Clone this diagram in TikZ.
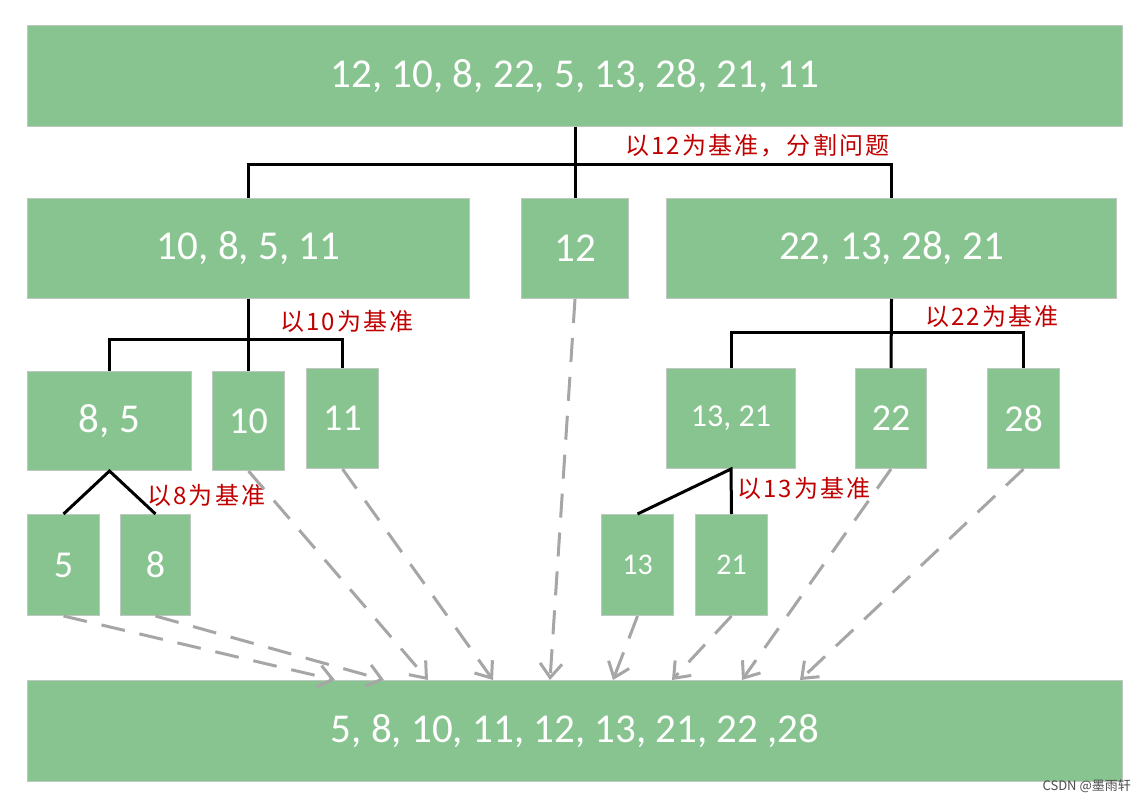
\documentclass[tikz,border=0pt]{standalone}
\usepackage{fontspec}
\setmainfont{Carlito}
\newfontfamily\cjk{Noto Sans CJK SC}
\newfontfamily\cjkwide[LetterSpace=9]{Noto Sans CJK SC}
\usetikzlibrary{arrows.meta}
\definecolor{boxgreen}{RGB}{136,196,143}
\definecolor{boxedge}{RGB}{190,200,192}
\definecolor{arrgray}{RGB}{166,166,166}
\definecolor{lblred}{RGB}{192,0,0}
\begin{document}
\begin{tikzpicture}[x=1pt,y=-1pt,
  box/.style={draw=boxedge, line width=1pt, fill=boxgreen, text=white, anchor=north west, inner sep=0pt},
  fbig/.style={font=\fontsize{41}{41}\selectfont},
  fmid/.style={font=\fontsize{38}{38}\selectfont},
  fsmall/.style={font=\fontsize{32}{32}\selectfont},
  ftiny/.style={font=\fontsize{30}{30}\selectfont},
  tree/.style={draw=black, line width=3pt},
  lbl/.style={text=lblred, anchor=west, inner sep=0pt, font=\cjkwide\fontsize{24}{24}\selectfont},
  darr/.style={draw=arrgray, line width=3pt, dash pattern=on 24pt off 15pt, -{Straight Barb[length=14pt,width=22pt]}}]
\useasboundingbox (0,0) rectangle (1147,802);
% boxes
\node[box, fbig, minimum width=1095, minimum height=101] (top) at (27,25) {12, 10, 8, 22, 5, 13, 28, 21, 11};
\node[box, fbig, minimum width=442, minimum height=100] (left) at (27,198) {10, 8, 5, 11};
\node[box, fbig, minimum width=107, minimum height=100] (mid) at (521,198) {12};
\node[box, fbig, minimum width=450, minimum height=100] (right) at (666,198) {22, 13, 28, 21};
\node[box, fbig, minimum width=164, minimum height=99] (b85) at (27,371) {8, 5};
\node[box, fmid, minimum width=72, minimum height=99] (b10) at (212,371) {10};
\node[box, fmid, minimum width=72, minimum height=100] (b11) at (306,368) {11};
\node[box, fsmall, minimum width=129, minimum height=100] (b1321) at (666,368) {13, 21};
\node[box, fmid, minimum width=71, minimum height=100] (b22) at (855,368) {22};
\node[box, fmid, minimum width=72, minimum height=100] (b28) at (987,368) {28};
\node[box, fmid, minimum width=72, minimum height=101] (b5) at (27,514) {5};
\node[box, fmid, minimum width=70, minimum height=101] (b8) at (120,514) {8};
\node[box, ftiny, minimum width=72, minimum height=101] (b13) at (601,514) {13};
\node[box, ftiny, minimum width=72, minimum height=101] (b21) at (695,514) {21};
\node[box, fbig, minimum width=1095, minimum height=101] (bot) at (27,680) {5, 8, 10, 11, 12, 13, 21, 22 ,28};
% tree connectors
\draw[tree] (top.south) -- (mid.north);
\draw[tree] (left.north) -- ++(0,-33) -| (right.north);
\draw[tree] (left.south) -- (b10.north);
\draw[tree] (b85.north) -- ++(0,-32) -| (b11.north);
\draw[tree] (right.south) -- (b22.north);
\draw[tree] (b1321.north) -- ++(0,-36) -| (b28.north);
\draw[tree] (b5.north) -- (b85.south) -- (b8.north);
\draw[tree] (b13.north) -- (b1321.south) -- (b21.north);
% labels
\node[lbl] (l12) at (625,146) {以12为基准，分割问题};
\node[lbl] (l10) at (280,321) {以10为基准};
\node[lbl] (l22) at (925,316) {以22为基准};
\node[lbl] (l8) at (147,495) {以8为基准};
\node[lbl] (l13) at (737,488) {以13为基准};
% arrow targets
\coordinate (t1) at (335,680);
\coordinate (t2) at (384,680);
\coordinate (t3) at (428,680);
\coordinate (t4) at (493,680);
\coordinate (t5) at (550,680);
\coordinate (t6) at (613,680);
\coordinate (t7) at (672,680);
\coordinate (t8) at (742,680);
\coordinate (t9) at (800,680);
\draw[darr] (b5.south) -- (t1);
\draw[darr] (b8.south) -- (t2);
\draw[darr] (b10.south) -- (t3);
\draw[darr] (b11.south) -- (t4);
\draw[darr] (mid.south) -- (t5);
\draw[darr] (b13.south) -- (t6);
\draw[darr] (b21.south) -- (t7);
\draw[darr] (b22.south) -- (t8);
\draw[darr] (b28.south) -- (t9);
% watermark
\node[anchor=east, inner sep=0pt, text=black!70, font=\cjk\fontsize{13}{13}\selectfont] (wm) at (1131,786) {CSDN @墨雨轩};
\end{tikzpicture}
\end{document}
